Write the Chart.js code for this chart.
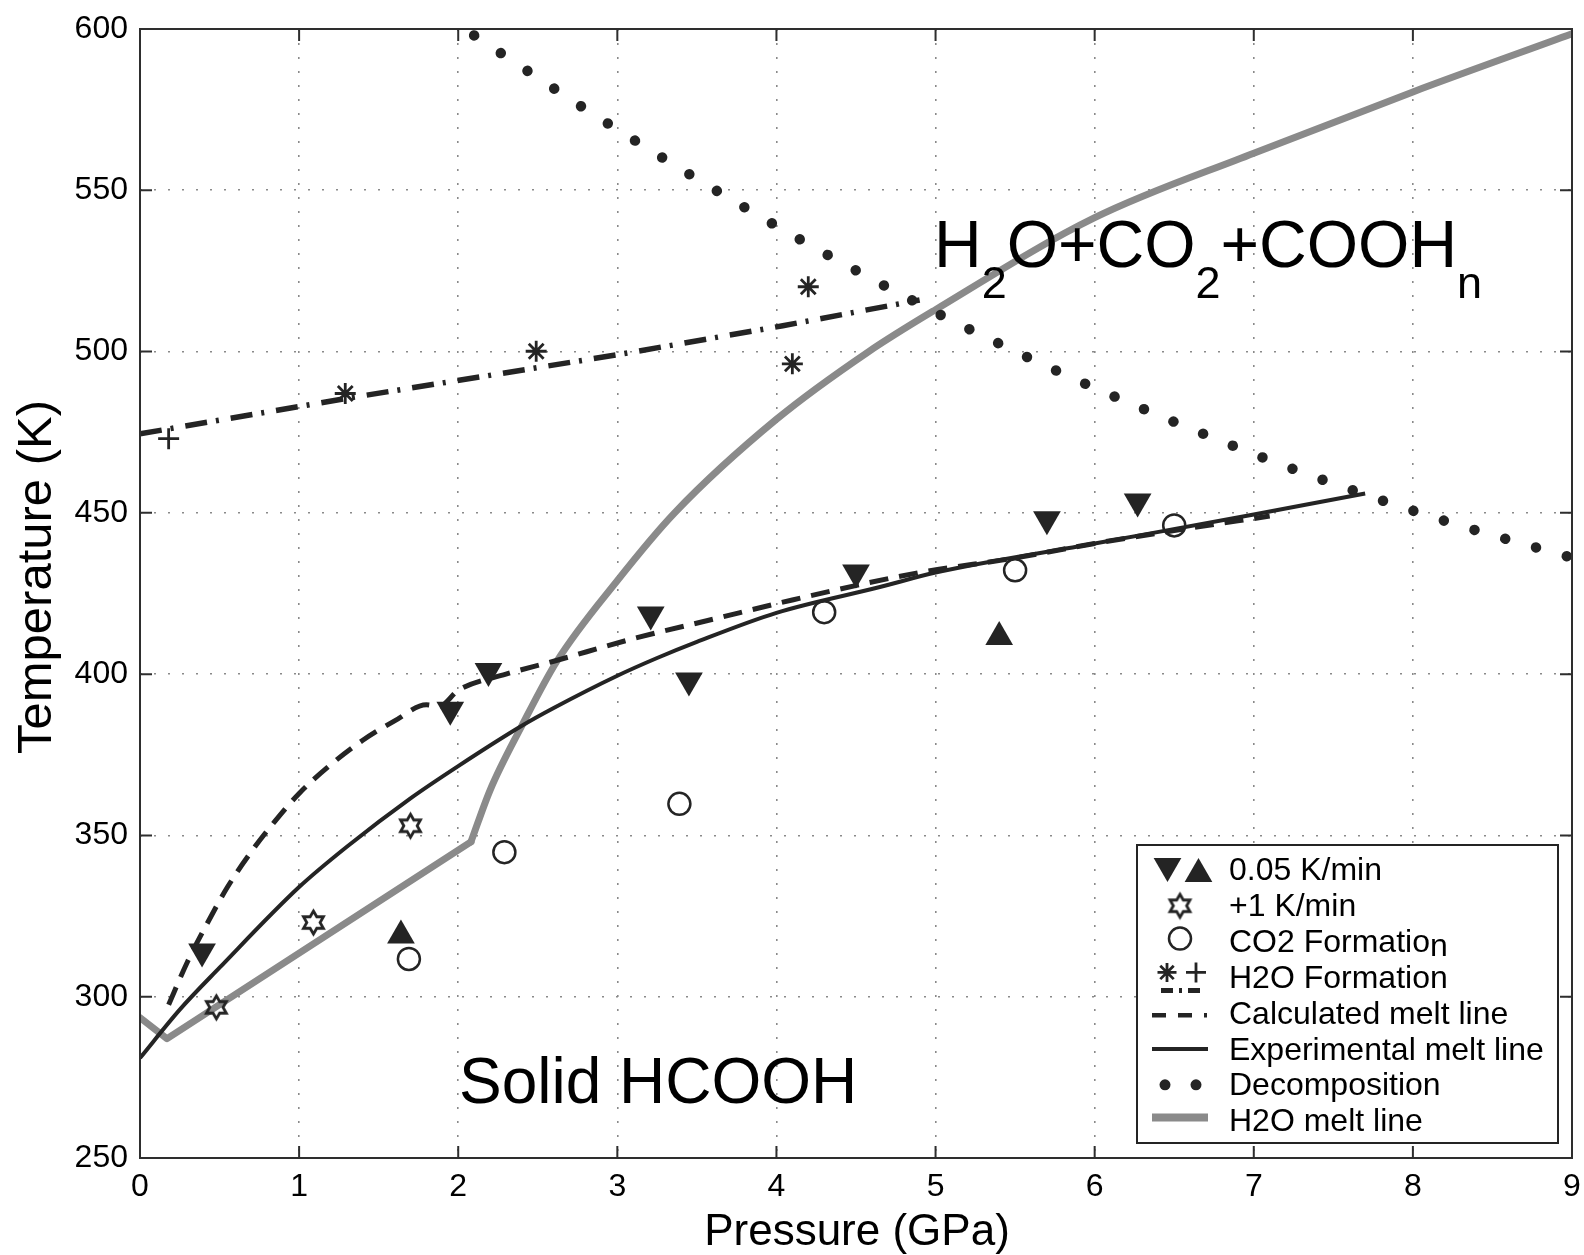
<!DOCTYPE html>
<html>
<head>
<meta charset="utf-8">
<script src="https://cdn.jsdelivr.net/npm/chart.js@4.4.1/dist/chart.umd.min.js"></script>
<style>
    body { margin: 0; background: #fff; }
    #wrap { width: 1584px; height: 1255px; }
</style>
</head>
<body>
<div id="wrap"><canvas id="phaseChart" width="1584" height="1255"></canvas></div>
<script>
// tick values
const pressureTicks = [0, 1, 2, 3, 4, 5, 6, 7, 8, 9];
const tempTicks = [250, 300, 350, 400, 450, 500, 550, 600];

// 0.05 K/min runs (down / up triangles)
const slowDownP = [0.39, 1.95, 2.19, 3.21, 3.45, 4.5, 5.7, 6.27];
const slowDownT = [314, 389, 401, 418.5, 398, 431.5, 448, 453.5];
const slowUpP = [1.64, 5.4];
const slowUpT = [319, 411.5];

// +1 K/min runs
const fastP = [0.48, 1.09, 1.7];
const fastT = [296.7, 323, 353];

// CO2 formation
const co2P = [1.69, 2.29, 3.39, 4.3, 5.5, 6.5];
const co2T = [311.7, 344.8, 359.8, 419.2, 432.2, 446.1];

// H2O formation (asterisks, plus, fitted line)
const h2oStarP = [1.29, 2.49, 4.1, 4.2];
const h2oStarT = [487, 500.1, 496.2, 520.1];
const h2oPlusP = [0.18];
const h2oPlusT = [473];
const h2oLineP = [0, 1.3, 3.0, 4.04, 4.9];
const h2oLineT = [474.5, 485.5, 499, 508, 516];

// calculated melt line
const calcP = [0.18, 0.3, 0.42, 0.55, 0.7, 0.85, 1.0, 1.2, 1.4, 1.6, 1.8, 1.88, 2.0, 2.3, 2.6, 3.1, 3.6, 4.1, 4.9, 5.5, 6.0, 6.5, 7.1];
const calcT = [297.5, 311, 322.5, 334, 345, 354.5, 363, 372, 379.5, 385.5, 390.5, 390, 395, 400, 404, 411, 417, 423, 431.5, 436, 440.5, 444.5, 449];

// experimental melt line
const expP = [0, 0.25, 0.5, 1.0, 1.3, 1.7, 2.0, 2.4, 2.6, 3.0, 3.25, 3.5, 4.0, 4.65, 5.0, 6.0, 7.0, 7.7];
const expT = [281, 296, 309, 334, 346.5, 361.5, 371.5, 384, 389.5, 399.5, 405, 410, 419, 427, 431.5, 440.5, 449.5, 456];

// decomposition
const decompP = [2.1, 2.95, 3.98, 4.86, 5.39, 5.96, 7.08, 7.645, 8.22, 9.0];
const decompT = [598, 570.4, 539.5, 515.7, 502.7, 489.6, 466.7, 456.6, 447.2, 436.1];

// H2O melt line
const iceLowP = [0, 0.17, 2.08];
const iceLowT = [293.5, 287, 348];
const iceHighP = [2.08, 2.2, 2.4, 2.62, 3.0, 3.36, 4.0, 4.58, 5.0, 6.0, 7.0, 8.0, 9.0];
const iceHighT = [348, 364, 384, 404, 429, 450, 479, 500, 513, 541.5, 561.5, 580.5, 598.5];

const legendLabels = ['0.05 K/min', '+1 K/min', 'CO2 Formation', 'H2O Formation',
    'Calculated melt line', 'Experimental melt line', 'Decomposition', 'H2O melt line'];

const INK = '#242424';
const GRAY = '#8a8a8a';
const FONT = '"Liberation Sans", Arial, Helvetica, sans-serif';

const pts = (xs, ys) => xs.map((x, i) => ({ x: x, y: ys[i] }));

function makeHexagram(r, lw) {
    const c = document.createElement('canvas');
    const s = Math.ceil(2 * r + 2 * lw + 4);
    c.width = s;
    c.height = s;
    const g = c.getContext('2d');
    g.translate(s / 2, s / 2);
    g.beginPath();
    for (let k = 0; k < 12; k++) {
        const a = -Math.PI / 2 + k * Math.PI / 6;
        const rad = k % 2 === 0 ? r : r / Math.sqrt(3);
        const px = Math.cos(a) * rad, py = Math.sin(a) * rad;
        if (k === 0) g.moveTo(px, py); else g.lineTo(px, py);
    }
    g.closePath();
    g.lineWidth = lw;
    g.strokeStyle = INK;
    g.stroke();
    return c;
}
const hexagram = makeHexagram(11.5, 2.8);

const markerSet = (data, style, radius, extra) => Object.assign({
    data: data,
    showLine: false,
    pointStyle: style,
    pointRadius: radius,
    pointBorderColor: INK,
    pointBackgroundColor: INK,
    pointBorderWidth: 2.5
}, extra || {});

const lineSet = (data, width, color, extra) => Object.assign({
    data: data,
    showLine: true,
    pointRadius: 0,
    borderColor: color,
    borderWidth: width,
    borderJoinStyle: 'round',
    fill: false
}, extra || {});

function drawTri(ctx, x, y, r, down) {
    const s = down ? -1 : 1;
    ctx.beginPath();
    ctx.moveTo(x, y - s * r);
    ctx.lineTo(x + r * Math.sqrt(3) / 2, y + s * r / 2);
    ctx.lineTo(x - r * Math.sqrt(3) / 2, y + s * r / 2);
    ctx.closePath();
    ctx.fill();
}

function drawAsterisk(ctx, x, y, r) {
    ctx.beginPath();
    ctx.moveTo(x - r, y); ctx.lineTo(x + r, y);
    ctx.moveTo(x, y - r); ctx.lineTo(x, y + r);
    const d = r * Math.SQRT1_2;
    ctx.moveTo(x - d, y - d); ctx.lineTo(x + d, y + d);
    ctx.moveTo(x - d, y + d); ctx.lineTo(x + d, y - d);
    ctx.stroke();
}

function drawRich(ctx, parts, x, y, size, subSize, subDrop) {
    let cx = x;
    parts.forEach(p => {
        ctx.font = (p.sub ? subSize : size) + 'px ' + FONT;
        ctx.fillText(p.t, cx, p.sub ? y + subDrop : y);
        cx += ctx.measureText(p.t).width;
    });
}

const framePlugin = {
    id: 'frameAndNotes',
    afterDraw(chart) {
        const ctx = chart.ctx;
        const a = chart.chartArea;
        const xs = chart.scales.x, ys = chart.scales.y;

        ctx.save();
        // axes box with inward ticks
        ctx.strokeStyle = '#2e2e2e';
        ctx.lineWidth = 2;
        ctx.strokeRect(a.left, a.top, a.right - a.left, a.bottom - a.top);
        ctx.beginPath();
        pressureTicks.forEach(v => {
            const px = xs.getPixelForValue(v);
            ctx.moveTo(px, a.bottom); ctx.lineTo(px, a.bottom - 12);
            ctx.moveTo(px, a.top); ctx.lineTo(px, a.top + 12);
        });
        tempTicks.forEach(v => {
            const py = ys.getPixelForValue(v);
            ctx.moveTo(a.left, py); ctx.lineTo(a.left + 12, py);
            ctx.moveTo(a.right, py); ctx.lineTo(a.right - 12, py);
        });
        ctx.stroke();

        // axis titles
        ctx.fillStyle = '#000';
        ctx.font = '44px ' + FONT;
        ctx.textAlign = 'center';
        ctx.textBaseline = 'alphabetic';
        ctx.fillText('Pressure (GPa)', 857, 1245);
        ctx.save();
        ctx.translate(51, 577);
        ctx.rotate(-Math.PI / 2);
        ctx.font = '49px ' + FONT;
        ctx.fillText('Temperature (K)', 0, 0);
        ctx.restore();

        // region labels
        ctx.textAlign = 'left';
        ctx.font = '64px ' + FONT;
        ctx.fillText('Solid HCOOH', xs.getPixelForValue(2.005), ys.getPixelForValue(267));
        drawRich(ctx, [
            { t: 'H' }, { t: '2', sub: true }, { t: 'O+CO' }, { t: '2', sub: true },
            { t: '+COOH' }, { t: 'n', sub: true }
        ], xs.getPixelForValue(4.99), ys.getPixelForValue(526.3), 66, 45, 31);

        // legend box
        const L = { left: 1137, top: 845, right: 1558, bottom: 1143 };
        ctx.fillStyle = '#fff';
        ctx.fillRect(L.left, L.top, L.right - L.left, L.bottom - L.top);
        ctx.strokeStyle = INK;
        ctx.lineWidth = 2;
        ctx.strokeRect(L.left, L.top, L.right - L.left, L.bottom - L.top);

        const rowY = i => 870 + i * 35.8;
        ctx.fillStyle = INK;
        ctx.strokeStyle = INK;
        // 0.05 K/min
        drawTri(ctx, 1167.5, rowY(0) - 4, 16, true);
        drawTri(ctx, 1198.5, rowY(0) + 4, 16, false);
        // +1 K/min
        ctx.drawImage(hexagram, 1180 - hexagram.width / 2, rowY(1) - hexagram.height / 2);
        // CO2 formation
        ctx.lineWidth = 2.5;
        ctx.beginPath();
        ctx.arc(1180, rowY(2) - 3, 11, 0, Math.PI * 2);
        ctx.stroke();
        // H2O formation
        ctx.lineWidth = 2.8;
        drawAsterisk(ctx, 1167, rowY(3) - 5, 9.5);
        ctx.beginPath();
        ctx.moveTo(1186, rowY(3) - 5); ctx.lineTo(1206, rowY(3) - 5);
        ctx.moveTo(1196, rowY(3) - 15); ctx.lineTo(1196, rowY(3) + 5);
        ctx.stroke();
        ctx.lineWidth = 5;
        ctx.setLineDash([12, 6, 3, 6]);
        ctx.beginPath();
        ctx.moveTo(1161, rowY(3) + 13); ctx.lineTo(1202, rowY(3) + 13);
        ctx.stroke();
        // calculated melt line
        ctx.lineWidth = 4.5;
        ctx.setLineDash([14, 12]);
        ctx.beginPath();
        ctx.moveTo(1152, rowY(4) + 2); ctx.lineTo(1207, rowY(4) + 2);
        ctx.stroke();
        ctx.setLineDash([]);
        // experimental melt line
        ctx.lineWidth = 4;
        ctx.beginPath();
        ctx.moveTo(1152, rowY(5)); ctx.lineTo(1208, rowY(5));
        ctx.stroke();
        // decomposition dots
        [1165, 1196].forEach(dx => {
            ctx.beginPath();
            ctx.arc(dx, rowY(6), 5.5, 0, Math.PI * 2);
            ctx.fill();
        });
        // H2O melt line
        ctx.strokeStyle = GRAY;
        ctx.lineWidth = 8;
        ctx.beginPath();
        ctx.moveTo(1152, rowY(7) - 3); ctx.lineTo(1208, rowY(7) - 3);
        ctx.stroke();

        ctx.fillStyle = '#000';
        ctx.font = '32px ' + FONT;
        legendLabels.forEach((txt, i) => {
            const base = 880 + i * 35.9;
            if (txt === 'CO2 Formation') {
                const head = 'CO2 Formatio';
                ctx.fillText(head, 1229, base);
                ctx.fillText('n', 1229 + ctx.measureText(head).width, base + 4);
            } else {
                ctx.fillText(txt, 1229, base);
            }
        });
        ctx.restore();
    }
};

const axisFont = { family: FONT, size: 32 };

new Chart(document.getElementById('phaseChart'), {
    type: 'scatter',
    data: {
        datasets: [
            markerSet(pts(slowDownP, slowDownT), 'triangle', 16, { pointRotation: 180, pointBorderWidth: 0 }),
            markerSet(pts(slowUpP, slowUpT), 'triangle', 16, { pointBorderWidth: 0 }),
            markerSet(pts(fastP, fastT), hexagram, 12),
            markerSet(pts(co2P, co2T), 'circle', 11, { pointBackgroundColor: 'rgba(0,0,0,0)' }),
            markerSet(pts(h2oStarP, h2oStarT), 'star', 10.5, { pointBorderWidth: 2.8 }),
            markerSet(pts(h2oPlusP, h2oPlusT), 'cross', 10.5, { pointBorderWidth: 2.8 }),
            lineSet(pts(h2oLineP, h2oLineT), 5.5, INK, { borderDash: [22, 9, 3, 12] }),
            lineSet(pts(calcP, calcT), 5, INK, { borderDash: [19, 11], cubicInterpolationMode: 'monotone' }),
            lineSet(pts(expP, expT), 4, INK, { cubicInterpolationMode: 'monotone' }),
            lineSet(pts(decompP, decompT), 10.5, INK, {
                borderDash: [0.01, 32], borderCapStyle: 'round',
                cubicInterpolationMode: 'monotone', clip: false
            }),
            lineSet(pts(iceLowP, iceLowT), 7, GRAY, { borderCapStyle: 'round' }),
            lineSet(pts(iceHighP, iceHighT), 7, GRAY, { borderCapStyle: 'round', cubicInterpolationMode: 'monotone' })
        ]
    },
    options: {
        responsive: false,
        devicePixelRatio: 1,
        animation: false,
        layout: { autoPadding: false, padding: { left: 0, right: 12, top: 29, bottom: 0 } },
        plugins: {
            legend: { display: false },
            tooltip: { enabled: false }
        },
        scales: {
            x: {
                type: 'linear',
                min: 0,
                max: 9,
                afterBuildTicks: axis => { axis.ticks = pressureTicks.map(v => ({ value: v })); },
                afterFit: axis => {
                    axis.height = 97;
                    axis.paddingLeft = 0;
                    axis.paddingRight = 0;
                },
                grid: { color: GRAY, lineWidth: 1.6, drawTicks: false, borderDash: [2, 12] },
                border: { display: false, dash: [2, 12] },
                ticks: { font: axisFont, color: '#000', padding: 10, maxRotation: 0, autoSkip: false }
            },
            y: {
                type: 'linear',
                min: 250,
                max: 600,
                afterBuildTicks: axis => { axis.ticks = tempTicks.map(v => ({ value: v })); },
                afterFit: axis => {
                    axis.width = 140;
                    axis.paddingTop = 0;
                    axis.paddingBottom = 0;
                },
                grid: { color: GRAY, lineWidth: 1.6, drawTicks: false, borderDash: [2, 12] },
                border: { display: false, dash: [2, 12] },
                ticks: { font: axisFont, color: '#000', padding: 12, autoSkip: false }
            }
        }
    },
    plugins: [framePlugin]
});
</script>
</body>
</html>
